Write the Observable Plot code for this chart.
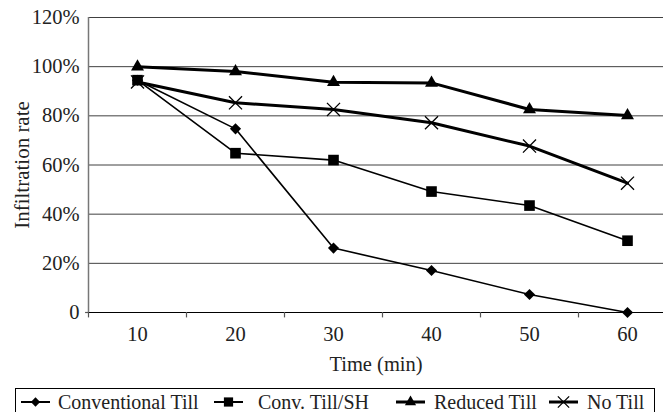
<!DOCTYPE html>
<html>
<head>
<meta charset="utf-8">
<script src="https://cdn.jsdelivr.net/npm/d3@7"></script>
<script src="https://cdn.jsdelivr.net/npm/@observablehq/plot@0.6"></script>
<style>
  html, body { margin: 0; padding: 0; background: #fff; overflow: hidden; }
  #wrap { position: relative; width: 663px; height: 412px; font-family: "Liberation Serif", "Times New Roman", serif; }
  #legend { position: absolute; left: 15px; top: 388px; width: 640px; height: 40px; border: 1px solid #000; box-sizing: border-box; }
  .item { position: absolute; top: 1px; height: 24px; display: flex; align-items: center; font-size: 20px; white-space: nowrap; color: #222; }
  .item svg { display: block; }
</style>
</head>
<body>
<div id="wrap"></div>
<script>
const times = [10, 20, 30, 40, 50, 60];
const conventionalTill = [94.5, 74.7, 26.2, 17.1, 7.3, 0];
const convTillSH = [94.5, 64.8, 62.0, 49.2, 43.5, 29.2];
const reducedTill = [100, 98.0, 93.7, 93.4, 82.6, 80.1];
const noTill = [93.8, 85.3, 82.6, 77.2, 67.7, 52.6];
const seriesNames = ["Conventional Till", "Conv. Till/SH", "Reduced Till", "No Till"];
const yTicks = [0, 20, 40, 60, 80, 100, 120];

const seriesValues = [conventionalTill, convTillSH, reducedTill, noTill];
const symbols = ["diamond2", "square", "triangle2", "times"];
const strokeW = [1.6, 1.6, 3, 3];
const radii = [5, 6, 6.2, 6];

const data = [];
seriesNames.forEach((s, i) => times.forEach((t, j) => data.push({series: s, time: t, value: seriesValues[i][j], idx: i})));

const W = 663, H = 388;
const marks = [
  Plot.ruleY(yTicks.filter(d => d > 0), {stroke: "#000", strokeWidth: 1, strokeOpacity: 0.75}),
  Plot.ruleX([5], {y1: 0, y2: 120, stroke: "#777", strokeWidth: 1.5}),
  Plot.ruleY([0], {stroke: "#000", strokeWidth: 1.2}),
  Plot.ruleY([0], {x1: 4.7, x2: 5, stroke: "#555", strokeWidth: 1.2}),
  Plot.ruleX([5, 15, 25, 35, 45, 55], {y1: 0, y2: -2.2, stroke: "#555", strokeWidth: 1.2}),
];
seriesNames.forEach((s, i) => {
  const d = data.filter(r => r.idx === i);
  marks.push(Plot.line(d, {x: "time", y: "value", stroke: "#000", strokeWidth: strokeW[i]}));
});
seriesNames.forEach((s, i) => {
  const d = data.filter(r => r.idx === i);
  if (symbols[i] === "times") {
    marks.push(Plot.dot(d, {x: "time", y: "value", symbol: "times", r: radii[i], stroke: "#000", strokeWidth: 1.3}));
  } else {
    marks.push(Plot.dot(d, {x: "time", y: "value", symbol: symbols[i], r: radii[i], fill: "#000", stroke: "none"}));
  }
});

const chart = Plot.plot({
  width: W,
  height: H,
  marginLeft: 88,
  marginRight: 0,
  marginTop: 17,
  marginBottom: 76,
  style: {fontFamily: "Liberation Serif, Times New Roman, serif", fontSize: "20px", color: "#222", background: "#fff", overflow: "hidden"},
  x: {type: "linear", domain: [5, 65], range: [88, 676], ticks: times, tickSize: 0, tickPadding: 14, tickFormat: d => String(d), label: "Time (min)", labelAnchor: "center", labelArrow: "none", labelOffset: 58},
  y: {type: "linear", domain: [0, 120], ticks: yTicks, tickSize: 0, tickPadding: 9, tickFormat: d => d === 0 ? "0" : d + "%", label: "Infiltration rate", labelAnchor: "center", labelArrow: "none", labelOffset: 74},
  marks
});
chart.querySelectorAll("text").forEach(t => { t.setAttribute("font-size", "20.5px"); t.setAttribute("fill", "#222"); });
chart.querySelectorAll("g[aria-label='y-axis label'] text").forEach(t => t.setAttribute("font-size", "21px"));
document.getElementById("wrap").appendChild(chart);

// legend
const legend = document.createElement("div");
legend.id = "legend";
const itemPos = [
  {line: 5, text: 42},
  {line: 198, text: 242},
  {line: 380, text: 418},
  {line: 533, text: 571}
];
seriesNames.forEach((s, i) => {
  const it = document.createElement("div");
  it.className = "item";
  it.style.left = itemPos[i].line + "px";
  it.style.width = "200px";
  const sw = d3.create("svg").attr("width", 32).attr("height", 24);
  sw.append("line").attr("x1", 0).attr("x2", 29).attr("y1", 12).attr("y2", 12).attr("stroke", "#000").attr("stroke-width", i < 2 ? 2 : 3);
  const symMap = {diamond2: d3.symbolDiamond2, square: d3.symbolSquare, triangle2: d3.symbolTriangle2, times: d3.symbolTimes};
  const size = radii[i] * radii[i] * Math.PI * (i === 0 ? 0.7 : 0.75);
  const p = d3.symbol(symMap[symbols[i]], size)();
  const g = sw.append("path").attr("d", p).attr("transform", "translate(14.5,12)");
  if (symbols[i] === "times") g.attr("fill", "none").attr("stroke", "#000").attr("stroke-width", 1.3);
  else g.attr("fill", "#000");
  it.appendChild(sw.node());
  const sp = document.createElement("span");
  sp.textContent = s;
  sp.style.marginLeft = (itemPos[i].text - itemPos[i].line - 32) + "px";
  it.appendChild(sp);
  legend.appendChild(it);
});
document.getElementById("wrap").appendChild(legend);
</script>
</body>
</html>
